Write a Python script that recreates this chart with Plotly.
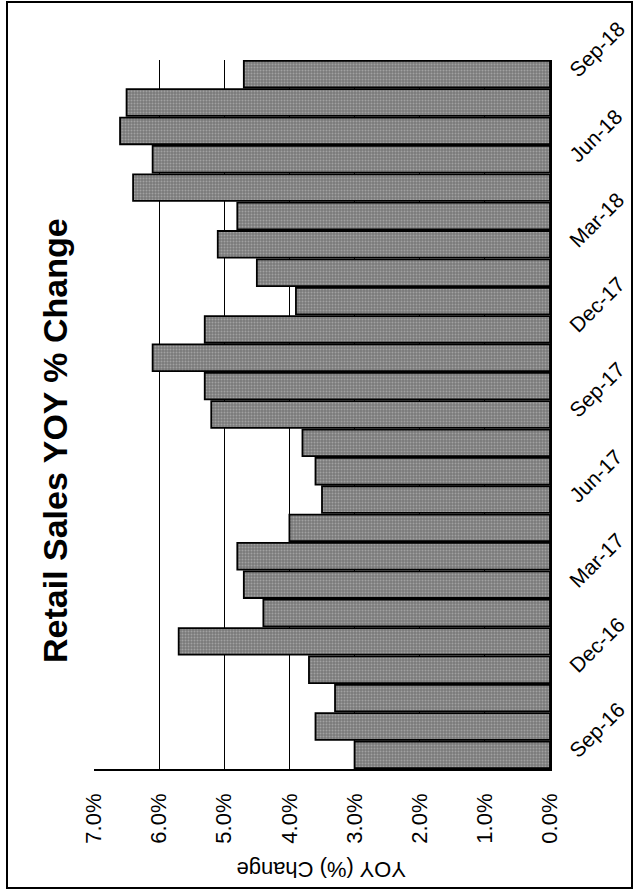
import plotly.graph_objects as go

months = ["Sep-16", "Oct-16", "Nov-16", "Dec-16", "Jan-17", "Feb-17", "Mar-17",
          "Apr-17", "May-17", "Jun-17", "Jul-17", "Aug-17", "Sep-17", "Oct-17",
          "Nov-17", "Dec-17", "Jan-18", "Feb-18", "Mar-18", "Apr-18", "May-18",
          "Jun-18", "Jul-18", "Aug-18", "Sep-18"]
yoy_change = [3.0, 3.6, 3.3, 3.7, 5.7, 4.4, 4.7, 4.8, 4.0, 3.5, 3.6, 3.8, 5.2,
              5.3, 6.1, 5.3, 3.9, 4.5, 5.1, 4.8, 6.4, 6.1, 6.6, 6.5, 4.7]
month_ticks = ["Sep-16", "Dec-16", "Mar-17", "Jun-17", "Sep-17", "Dec-17",
               "Mar-18", "Jun-18", "Sep-18"]
value_ticks = [0, 1, 2, 3, 4, 5, 6, 7]
value_tick_labels = ["0.0%", "1.0%", "2.0%", "3.0%", "4.0%", "5.0%", "6.0%", "7.0%"]

FONT = "Arial, Liberation Sans, sans-serif"
W, H = 639, 896
L, R, T, B = 94, 89, 60, 127
PW, PH = W - L - R, H - T - B


def px_x(px):
    return (px - L) / PW


def px_y(py):
    return (H - B - py) / PH


fig = go.Figure(go.Bar(
    x=yoy_change,
    y=months,
    orientation="h",
    marker=dict(
        color="#8c8c8c",
        line=dict(color="black", width=1.8),
        pattern=dict(shape=".", fgcolor="#c8c8c8", bgcolor="#7a7a7a", size=3, solidity=0.35),
    ),
    hovertemplate="%{y}: %{x:.1f}%<extra></extra>",
))

fig.update_layout(
    width=W, height=H,
    margin=dict(l=L, r=R, t=T, b=B, autoexpand=False),
    paper_bgcolor="white",
    plot_bgcolor="white",
    bargap=0.06,
    showlegend=False,
    font=dict(family=FONT, color="black"),
    xaxis=dict(
        range=[7, 0],
        tickvals=value_ticks,
        ticktext=value_tick_labels,
        tickangle=-90,
        tickfont=dict(size=22, family=FONT, color="black"),
        showgrid=True, gridcolor="black", gridwidth=1,
        showline=True, linecolor="black", linewidth=1.5,
        zeroline=False,
        ticks="",
        ticklabelstandoff=14,
        automargin=False,
        fixedrange=True,
    ),
    yaxis=dict(
        side="right",
        categoryorder="array", categoryarray=months,
        tickmode="array", tickvals=month_ticks, ticktext=month_ticks,
        tickangle=-45,
        tickfont=dict(size=21, family=FONT, color="black"),
        showgrid=False,
        showline=True, linecolor="black", linewidth=1.5,
        ticks="",
        ticklabelstandoff=15,
        automargin=False,
        fixedrange=True,
    ),
    annotations=[
        dict(text="<b>Retail Sales YOY % Change</b>", textangle=-90,
             x=px_x(55), y=px_y(441), xref="paper", yref="paper",
             xanchor="center", yanchor="middle", showarrow=False,
             font=dict(size=34, family=FONT, color="black")),
        dict(text="YOY (%) Change", textangle=180,
             x=px_x(321), y=px_y(870), xref="paper", yref="paper",
             xanchor="center", yanchor="middle", showarrow=False,
             font=dict(size=22, family=FONT, color="black")),
    ],
    shapes=[
        dict(type="rect", xref="paper", yref="paper",
             x0=px_x(7), x1=px_x(632), y0=px_y(888), y1=px_y(2),
             line=dict(color="black", width=2), fillcolor="rgba(0,0,0,0)", layer="below"),
    ],
)

fig.write_html("out.html")
